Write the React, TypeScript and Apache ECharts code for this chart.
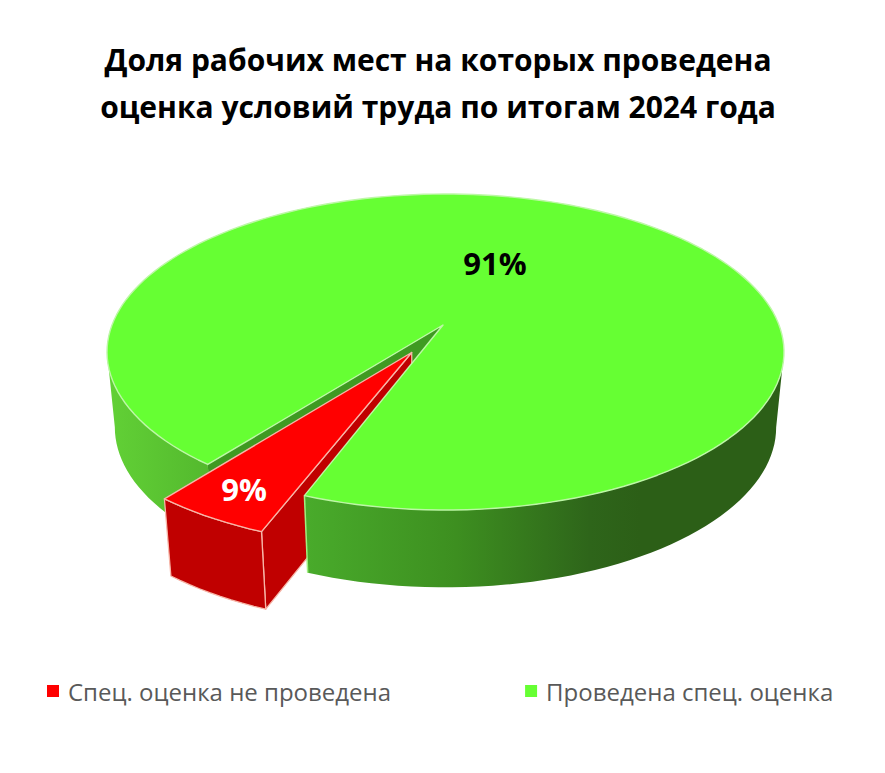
import React, { useEffect, useRef } from "react";
import * as echarts from "echarts";

const titleLines = ["Доля рабочих мест на которых проведена", "оценка условий труда по итогам 2024 года"];
const categories = ["Спец. оценка не проведена", "Проведена спец. оценка"];
// Values printed on the chart, in percent.
const values = [9, 91];
// The share of the disc each wedge really covers in the picture. The reference
// draws its 9% wedge narrower than 9% of the circle, so this is read separately.
const drawnShares = [4.8, 95.2];
const colors = ["#ff0000", "#66ff33"];

const wedgeStartDeg = 231.9;
const K = 0.1709;
const TOP = { cx: 445.5, cy: 325, rx: 333.5, ry: 153.4 };
const BOTTOM = { cx: 445.5, cy: 400, rx: 325.8, ry: 155.3 };
const EXPLODE = 0.2;
const RED_RADIUS = 0.985;
const GREEN_APEX_X = -0.0075;

type Level = typeof TOP;
const rad = (d: number) => (d * Math.PI) / 180;
const proj = (x: number, y: number, l: Level): number[] => {
  const w = 1 + K * y;
  return [l.cx + (l.rx * x) / w, l.cy - (l.ry * y) / w];
};
const arc = (ox: number, oy: number, r: number, a: number, b: number, l: Level) => {
  const pts: number[][] = [];
  const n = Math.max(2, Math.ceil(Math.abs(b - a) / 2));
  for (let i = 0; i <= n; i++) {
    const t = rad(a + ((b - a) * i) / n);
    pts.push(proj(ox + r * Math.cos(t), oy + r * Math.sin(t), l));
  }
  return pts;
};
const grad = (x1: number, x2: number, stops: [number, string][]) =>
  new echarts.graphic.LinearGradient(x1, 0, x2, 0, stops.map(([offset, color]) => ({ offset, color })), true);
const poly = (points: number[][], fill: any, stroke?: string, lineWidth = 1.3) => ({
  type: "polygon",
  shape: { points },
  style: { fill, stroke: stroke ?? "none", lineWidth, lineJoin: "round" },
});
const line = (points: number[][], stroke: string, lineWidth = 1.5) => ({
  type: "polyline",
  shape: { points },
  style: { fill: "none", stroke, lineWidth, lineJoin: "round" },
});

const angles = () => {
  const redEnd = wedgeStartDeg + drawnShares[0] * 3.6;
  return { redStart: wedgeStartDeg, redEnd, greenEnd: wedgeStartDeg + 360 };
};

const renderGreenBack = () => {
  const { redStart } = angles();
  const rimTop = arc(0, 0, 1, 189.8, redStart, TOP);
  const rimBottom = arc(0, 0, 1, 189.8, redStart, BOTTOM);
  const cutTop = proj(Math.cos(rad(redStart)), Math.sin(rad(redStart)), TOP);
  const cutBottom = proj(Math.cos(rad(redStart)), Math.sin(rad(redStart)), BOTTOM);
  return {
    type: "group",
    children: [
      poly([...rimTop, ...rimBottom.slice().reverse()], grad(107, 220, [[0, "#62d136"], [1, "#52b62d"]])),
      poly([proj(GREEN_APEX_X, 0, TOP), cutTop, cutBottom, proj(GREEN_APEX_X, 0, BOTTOM)], "#3f9a22"),
    ],
  };
};

const renderRed = () => {
  const { redStart, redEnd } = angles();
  const mid = rad((redStart + redEnd) / 2);
  const ox = EXPLODE * Math.cos(mid);
  const oy = EXPLODE * Math.sin(mid);
  const rimTop = arc(ox, oy, RED_RADIUS, redStart, redEnd, TOP);
  const rimBottom = arc(ox, oy, RED_RADIUS, redStart, redEnd, BOTTOM);
  const apexTop = proj(ox, oy, TOP);
  const apexBottom = proj(ox, oy, BOTTOM);
  const cornerTop = rimTop[rimTop.length - 1];
  const cornerBottom = rimBottom[rimBottom.length - 1];
  const edge = "#f7b6a8";
  return {
    type: "group",
    children: [
      poly([apexTop, apexBottom, cornerBottom, cornerTop], "#c00000", edge),
      poly([...rimTop, ...rimBottom.slice().reverse()], "#c00000", edge),
      poly([apexTop, ...rimTop], colors[0], edge),
      {
        type: "text",
        style: {
          text: `${values[0]}%`,
          x: 244,
          y: 489,
          fill: "#ffffff",
          font: "bold 31px 'Open Sans', sans-serif",
          align: "center",
          verticalAlign: "middle",
        },
      },
    ],
  };
};

const renderGreenFront = () => {
  const { redEnd, greenEnd } = angles();
  const start = redEnd;
  const rimTop = arc(0, 0, 1, start, 350.2, TOP);
  const rimBottom = arc(0, 0, 1, start, 350.2, BOTTOM);
  const fullRim = arc(0, 0, 1, start, greenEnd, TOP);
  const apex = proj(GREEN_APEX_X, 0, TOP);
  return {
    type: "group",
    children: [
      poly(
        [...rimTop, ...rimBottom.slice().reverse()],
        grad(305, 640, [[0, "#49ab2b"], [0.45, "#3d8f20"], [0.85, "#2e651a"], [1, "#2c5f17"]])
      ),
      line([rimTop[0], rimBottom[0]], "#9ff07e", 1.5),
      poly([apex, ...fullRim], colors[1], "#bdf7a6", 1.4),
      {
        type: "text",
        style: {
          text: `${values[1]}%`,
          x: 495,
          y: 263,
          fill: "#000000",
          font: "bold 31px 'Open Sans', sans-serif",
          align: "center",
          verticalAlign: "middle",
        },
      },
    ],
  };
};

export default function App() {
  const ref = useRef<HTMLDivElement>(null);
  useEffect(() => {
    const chart = echarts.init(ref.current!, undefined, { renderer: "svg" });
    chart.setOption({
      animation: false,
      backgroundColor: "#ffffff",
      title: {
        text: titleLines.join("\n"),
        left: 433,
        top: 31,
        textAlign: "center",
        textStyle: {
          fontFamily: "'Open Sans', sans-serif",
          fontWeight: "bold",
          fontSize: 30,
          lineHeight: 47,
          color: "#000000",
        },
      },
      legend: {
        data: categories,
        left: 42,
        top: 674,
        selectedMode: false,
        icon: "rect",
        itemWidth: 12,
        itemHeight: 12,
        itemGap: 134,
        textStyle: { fontFamily: "'Open Sans', sans-serif", fontSize: 24, color: "#595959", padding: [0, 0, 0, 4] },
      },
      series: [
        { type: "custom", name: categories[1], coordinateSystem: "none", z: 1, itemStyle: { color: colors[1] }, data: [values[1]], renderItem: renderGreenBack },
        { type: "custom", name: categories[0], coordinateSystem: "none", z: 2, itemStyle: { color: colors[0] }, data: [values[0]], renderItem: renderRed },
        { type: "custom", name: categories[1], coordinateSystem: "none", z: 3, itemStyle: { color: colors[1] }, data: [values[1]], renderItem: renderGreenFront },
      ],
    });
    return () => chart.dispose();
  }, []);
  return <div ref={ref} style={{ position: "absolute", left: 0, top: 0, width: 885, height: 773 }} />;
}
